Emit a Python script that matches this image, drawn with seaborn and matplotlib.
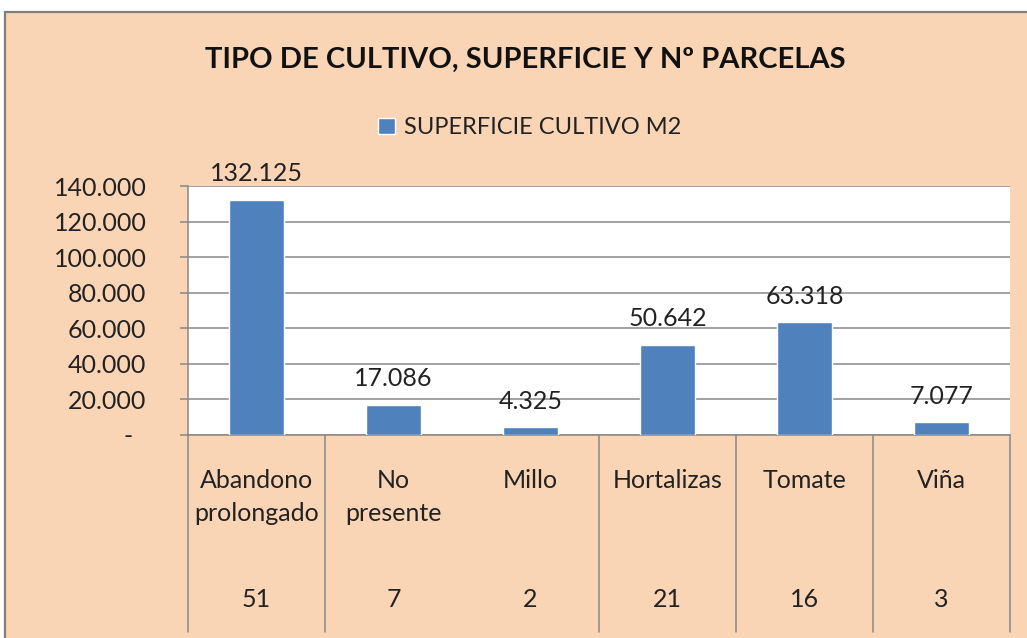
import matplotlib
matplotlib.use("Agg")
import matplotlib.pyplot as plt
import matplotlib.ticker as mticker
from matplotlib.patches import Rectangle
import matplotlib.transforms as mtransforms
import seaborn as sns
import pandas as pd

# ── Datos ───────────────────────────────────────────────────────────────────
cultivos = ["Abandono\nprolongado", "No\npresente", "Millo", "Hortalizas", "Tomate", "Viña"]
superficie = [132125, 17086, 4325, 50642, 63318, 7077]
parcelas = [51, 7, 2, 21, 16, 3]

FONDO = "#FAD5B5"
AZUL = "#4F81BD"
GRIS = "#888888"

sns.set_style("white")
plt.rcParams["font.family"] = ["Lato", "DejaVu Sans"]

W, H = 1027, 638
fig = plt.figure(figsize=(W / 100, H / 100), dpi=100)
fig.patch.set_facecolor("white")

# marco del gráfico (estilo Excel)
fig.patches.append(Rectangle((5 / W, -0.05), 1.05, 1 - 12 / H + 0.05,
                             transform=fig.transFigure, facecolor=FONDO,
                             edgecolor="#7F7F7F", linewidth=1.6, zorder=-1))

ax = fig.add_axes([188 / W, (H - 435) / H, (1010 - 188) / W, (435 - 186) / H])
ax.set_zorder(1)
ax.set_facecolor("white")

df = pd.DataFrame({"cultivo": cultivos, "superficie": superficie})
sns.barplot(data=df, x="cultivo", y="superficie", color=AZUL, width=0.4,
            saturation=1, ax=ax, label="SUPERFICIE CULTIVO M2", zorder=3)

ax.set_ylim(0, 140000)
ax.set_xlim(-0.5, len(cultivos) - 0.5)
ax.yaxis.set_major_locator(mticker.MultipleLocator(20000))
ax.yaxis.set_major_formatter(mticker.FuncFormatter(
    lambda v, _: "-  " if v == 0 else f"{v:,.0f}".replace(",", ".")))
ax.grid(axis="y", color=GRIS, linewidth=1.1, zorder=1)
ax.set_axisbelow(True)
ax.tick_params(axis="y", left=True, length=6, width=1.1, color=GRIS, pad=24,
               labelsize=18, labelcolor="#222222")
ax.set_xticks([])
ax.set_xlabel("")
ax.set_ylabel("")
for s in ["top", "right"]:
    ax.spines[s].set_visible(False)
for s in ["left", "bottom"]:
    ax.spines[s].set_color(GRIS)
    ax.spines[s].set_linewidth(1.1)

# etiquetas de valores
for i, v in enumerate(superficie):
    ax.annotate(f"{v:,.0f}".replace(",", "."), (i, v), xytext=(0, 13.5),
                textcoords="offset points", ha="center", va="baseline",
                fontsize=18, color="#222222", zorder=4)

# tabla de categorías bajo el eje
trans = mtransforms.blended_transform_factory(ax.transData, ax.transAxes)
for b in [-0.5, 0.5, 2.5, 3.5, 4.5, 5.5]:
    ax.plot([b, b], [0, -0.79], transform=trans, color=GRIS, lw=1.1,
            clip_on=False)
for i, (c, n) in enumerate(zip(cultivos, parcelas)):
    ax.text(i, -0.135, c, transform=trans, ha="center", va="top",
            fontsize=18, linespacing=1.55, color="#222222")
    ax.text(i, -0.66, str(n), transform=trans, ha="center", va="center",
            fontsize=18, color="#222222")

# título y leyenda
fig.text(525 / W, 1 - 60 / H, "TIPO DE CULTIVO, SUPERFICIE Y Nº PARCELAS",
         ha="center", va="center", fontsize=21, fontweight="bold", color="#111111")
fig.legend(loc="center", bbox_to_anchor=(530 / W, 1 - 128 / H), frameon=False,
           fontsize=17, handlelength=0.7, handleheight=0.7, handletextpad=0.4,
           labelcolor="#222222")
if ax.get_legend() is not None:
    ax.get_legend().remove()

fig.savefig("out.png", dpi=100, facecolor=fig.get_facecolor())
plt.close()
